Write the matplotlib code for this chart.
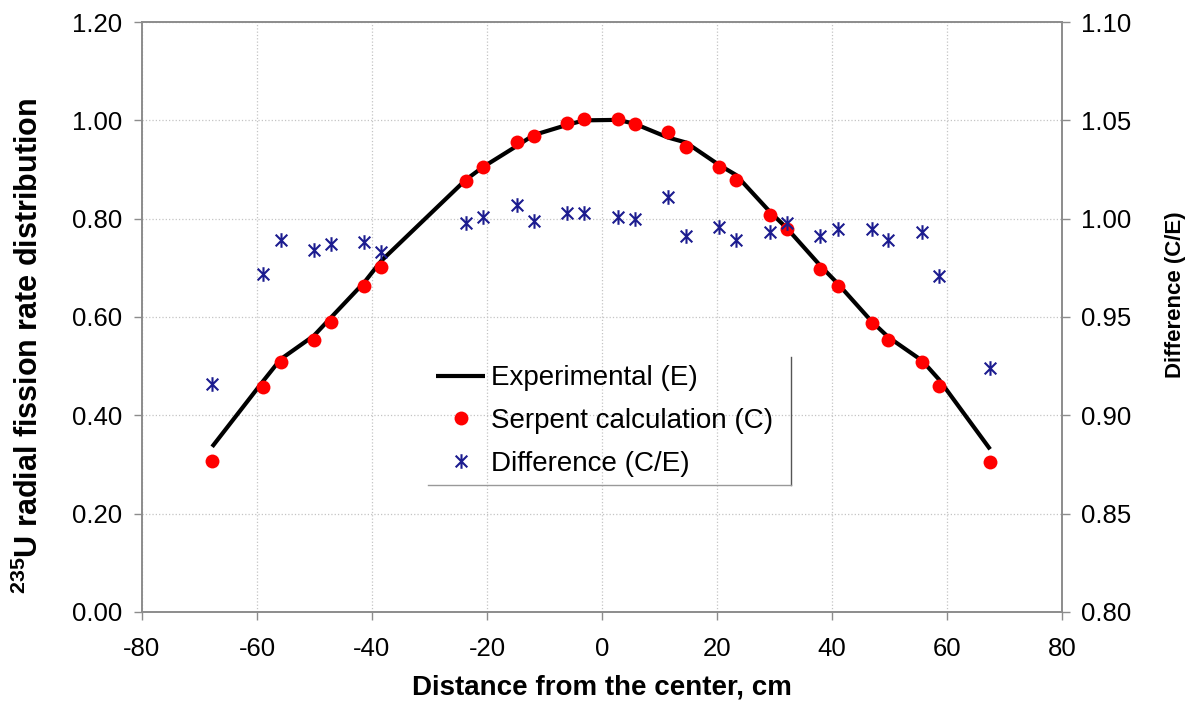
"""Radial U-235 fission rate: experiment vs Serpent, with C/E ratio."""
import matplotlib
matplotlib.use("Agg")
import matplotlib.pyplot as plt
from matplotlib.lines import Line2D
from matplotlib.path import Path

plt.rcParams["font.family"] = ["Liberation Sans", "DejaVu Sans"]
plt.rcParams["mathtext.fontset"] = "custom"
plt.rcParams["mathtext.bf"] = "Liberation Sans:bold"
plt.rcParams["mathtext.rm"] = "Liberation Sans:bold"

# positions (cm) shared by all three series
distance = [-67.8, -58.9, -55.9, -50.1, -47.2, -41.3, -38.4, -23.7, -20.7,
            -14.8, -11.9, -6.0, -3.1, 2.8, 5.7, 11.5, 14.6, 20.4, 23.3,
            29.2, 32.2, 38.0, 41.0, 46.9, 49.8, 55.7, 58.6, 67.5]
experimental = [0.336, 0.470, 0.514, 0.562, 0.598, 0.671, 0.714, 0.879, 0.905,
                0.948, 0.970, 0.991, 1.000, 1.001, 0.993, 0.965, 0.955, 0.909,
                0.889, 0.814, 0.780, 0.704, 0.668, 0.591, 0.559, 0.511, 0.473,
                0.331]
serpent = [0.308, 0.457, 0.508, 0.553, 0.590, 0.663, 0.702, 0.877, 0.906,
           0.955, 0.969, 0.994, 1.003, 1.002, 0.993, 0.976, 0.946, 0.906,
           0.879, 0.808, 0.778, 0.698, 0.664, 0.588, 0.553, 0.508, 0.459,
           0.306]
ratio_ce = [0.916, 0.972, 0.989, 0.984, 0.987, 0.988, 0.983, 0.998, 1.001,
            1.007, 0.999, 1.003, 1.003, 1.001, 1.000, 1.011, 0.991, 0.996,
            0.989, 0.993, 0.998, 0.991, 0.995, 0.995, 0.989, 0.993, 0.971,
            0.924]

x_ticks = [-80, -60, -40, -20, 0, 20, 40, 60, 80]
left_ticks = [0.0, 0.2, 0.4, 0.6, 0.8, 1.0, 1.2]
right_ticks = [0.80, 0.85, 0.90, 0.95, 1.00, 1.05, 1.10]

SPINE = "#8c8c8c"
NAVY = "#1c1c8f"

# "x" with a vertical bar, like the Excel asterisk marker
star = Path([(-1, -1), (1, 1), (-1, 1), (1, -1), (0, -1.25), (0, 1.25)],
            [Path.MOVETO, Path.LINETO, Path.MOVETO, Path.LINETO,
             Path.MOVETO, Path.LINETO])

fig = plt.figure(figsize=(11.95, 7.13), dpi=100)
ax = fig.add_axes([0.1188, 0.1417, 0.7699, 0.8274])
ax2 = ax.twinx()

ax.plot(distance, experimental, color="black", lw=3.0, zorder=3,
        solid_capstyle="butt", label="Experimental (E)")
ax.plot(distance, serpent, ls="none", marker="o", ms=10, color="#ff0000",
        mec="none", zorder=4, label="Serpent calculation (C)")
ax2.plot(distance, ratio_ce, ls="none", marker=star, ms=10.5, mew=1.5,
         color=NAVY, zorder=4, label="Difference (C/E)")

ax.set_xlim(-80, 80)
ax.set_ylim(0, 1.2)
ax2.set_ylim(0.8, 1.1)
ax.set_xticks(x_ticks)
ax.set_xticklabels([str(t) for t in x_ticks])
ax.set_yticks(left_ticks)
ax.set_yticklabels([f"{t:.2f}" for t in left_ticks])
ax2.set_yticks(right_ticks)
ax2.set_yticklabels([f"{t:.2f}" for t in right_ticks])

ax.grid(True, ls=":", lw=0.9, color="#c4c4c4")
ax.set_axisbelow(True)

for a in (ax, ax2):
    for s in a.spines.values():
        s.set_color(SPINE)
        s.set_linewidth(1.2)
    a.tick_params(colors=SPINE, labelcolor="black", labelsize=18.5,
                  direction="out", length=6, width=1)
ax.tick_params(axis="x", pad=12)
ax.tick_params(axis="y", pad=8)
ax2.tick_params(axis="y", pad=8)

ax.set_xlabel("Distance from the center, cm", fontsize=20,
              fontweight="bold", labelpad=10)
ax.set_ylabel(r"$^{235}$U radial fission rate distribution", fontsize=22,
              fontweight="bold")
ax.yaxis.set_label_coords(-0.105, 0.451)
ax2.set_ylabel("Difference (C/E)", fontsize=16, fontweight="bold")
ax2.yaxis.set_label_coords(1.112, 0.537)

handles = [ax.lines[0], ax.lines[1], ax2.lines[0]]
leg = ax2.legend(handles, [h.get_label() for h in handles],
                 loc="lower left", bbox_to_anchor=(0.311, 0.215),
                 borderaxespad=0, frameon=False, fontsize=20,
                 handlelength=1.75, handletextpad=0.2, labelspacing=0.6,
                 borderpad=0.3)

# Excel-style shadow frame: only right and bottom edges
fig.canvas.draw()
bb = leg.get_window_extent().transformed(fig.transFigure.inverted())
x_right = bb.x1 + 0.008
fig.add_artist(Line2D([x_right, x_right], [bb.y0, bb.y1], color="#555555",
                      lw=1.0, transform=fig.transFigure))
fig.add_artist(Line2D([bb.x0, x_right], [bb.y0, bb.y0], color="#999999",
                      lw=1.0, transform=fig.transFigure))

fig.savefig("out.png", dpi=100)
